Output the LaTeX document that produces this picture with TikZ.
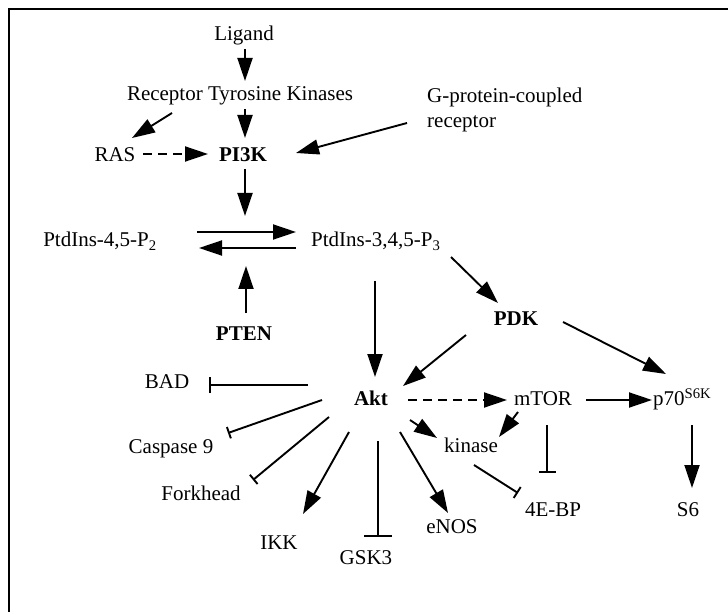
\documentclass[tikz,border=0pt]{standalone}
\usepackage{fontspec}
\setmainfont{Liberation Serif}
\usetikzlibrary{arrows.meta,calc}
\begin{document}
\begin{tikzpicture}[x=1pt,y=-1pt,
  lbl/.style={font=\fontsize{21}{25}\selectfont, inner sep=0pt, text height=13.9pt, text depth=0pt},
  blbl/.style={lbl, font=\fontsize{21}{25}\selectfont\bfseries},
  gp/.style={font=\fontsize{21}{25}\selectfont, inner sep=0pt, align=left, anchor=north west},
  conn/.style={line width=1.9pt},
  act/.style={conn, -{Triangle[length=23pt,width=15pt]}},
  inh/.style={conn, -{Bar[width=#1]}}, inh/.default=16pt,
  dsh/.style={act, dash pattern=on 9pt off 6pt},
  frame/.style={line width=2pt}]
\useasboundingbox (0,0) rectangle (728,612);
\coordinate (fbl) at (9,612);
\coordinate (ftl) at (9,9);
\coordinate (ftr) at (728,9);
\draw[frame] (fbl) -- (ftl) -- (ftr);

% nodes
\node[lbl] (lig) at (244,34) {Ligand};
\node[lbl] (rtk) at (240,94) {Receptor Tyrosine Kinases};
\node[gp] (gpcr) at (427,87.5) {G-protein-coupled\\receptor};
\node[lbl] (ras) at (115,155) {RAS};
\node[blbl] (pi3k) at (243,155) {PI3K};
\node[lbl] (pip2) at (100,240) {PtdIns-4,5-P\textsubscript{2}};
\node[lbl,anchor=west] (pip3) at (311,240) {PtdIns-3,4,5-P\textsubscript{3}};
\coordinate (rxn) at (246,240);
\node[blbl] (pten) at (244,334) {PTEN};
\node[blbl] (pdk) at (516,319) {PDK};
\node[blbl] (akt) at (371,399) {Akt};
\node[lbl] (mtor) at (543,399) {mTOR};
\node[lbl,anchor=west] (p70) at (653,399) {p70\textsuperscript{S6K}};
\node[lbl] (bad) at (167,382) {BAD};
\node[lbl] (casp) at (171,447) {Caspase 9};
\node[lbl] (fork) at (201,494) {Forkhead};
\node[lbl] (ikk) at (279,543) {IKK};
\node[lbl] (gsk) at (366,558) {GSK3};
\node[lbl] (enos) at (452,527) {eNOS};
\node[lbl] (kin) at (471,446) {kinase};
\node[lbl] (ebp) at (553,510) {4E-BP};
\node[lbl] (s6) at (688,510) {S6};

% connectors
\draw[act] ($(lig)+(1,15)$) -- ($(rtk)+(5,-13)$);
\draw[act] ($(rtk)+(-68,19)$) -- ($(ras)+(17,-17)$);
\draw[act] ($(rtk)+(5,15)$) -- ($(pi3k)+(2,-17)$);
\draw[act] ($(gpcr.north west)+(-20,35.5)$) -- ($(pi3k)+(53,-2)$);
\draw[dsh] ($(ras)+(28,-1)$) -- ($(pi3k)+(-35,-1)$);
\draw[act] ($(pi3k)+(2,14)$) -- ($(rxn)+(-1,-24)$);
\draw[act] ($(pip2)+(97,-8)$) -- ($(pip3.west)+(-15,-8)$);
\draw[act] ($(pip3.west)+(-15,8)$) -- ($(pip2)+(99,8)$);
\draw[act] ($(pten)+(2,-21)$) -- ($(rxn)+(0,26)$);
\draw[act] ($(pip3.west)+(64,41)$) -- ($(akt)+(4,-22)$);
\draw[act] ($(pip3.west)+(140,17)$) -- ($(pdk)+(-18,-16)$);
\draw[act] ($(pdk)+(-50,16)$) -- ($(akt)+(32,-13)$);
\draw[act] ($(pdk)+(47,3)$) -- ($(p70.west)+(13,-25)$);
\draw[dsh] ($(akt)+(37,1)$) -- ($(mtor)+(-36,1)$);
\draw[act] ($(mtor)+(43,1)$) -- ($(p70.west)+(-1,1)$);
\draw[act] ($(p70.west)+(39,26)$) -- ($(s6)+(4,-22)$);
\draw[act] ($(mtor)+(-25,13)$) -- ($(kin)+(28,-9)$);
\draw[act] ($(akt)+(39,21)$) -- ($(kin)+(-34,-8)$);
\draw[inh=17pt] ($(mtor)+(4,26)$) -- ($(ebp)+(-6,-37)$);
\draw[inh=13pt] ($(kin)+(3,19)$) -- ($(ebp)+(-35,-17)$);
\draw[inh=16pt] ($(akt)+(-63,-14)$) -- ($(bad)+(42,3)$);
\draw[inh=12pt] ($(akt)+(-49,1)$) -- ($(casp)+(57,-14)$);
\draw[inh=12pt] ($(akt)+(-42,18)$) -- ($(fork)+(52,-14)$);
\draw[act] ($(akt)+(-22,33)$) -- ($(ikk)+(24,-29)$);
\draw[inh=28pt] ($(akt)+(7,42)$) -- ($(gsk)+(12,-21)$);
\draw[act] ($(akt)+(29,33)$) -- ($(enos)+(-4,-14)$);
\end{tikzpicture}
\end{document}
